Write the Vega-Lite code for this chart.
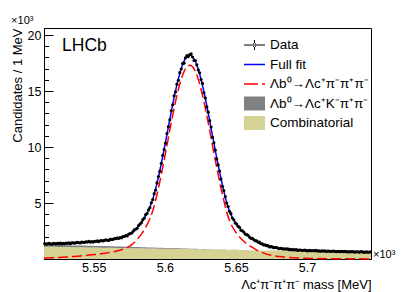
{
  "$schema": "https://vega.github.io/schema/vega-lite/v6.json",
  "width": 327,
  "height": 231,
  "autosize": {"type": "none"},
  "padding": {"left": 44, "top": 28, "right": 36, "bottom": 33},
  "background": "white",
  "config": {
    "font": "Liberation Sans",
    "view": {"stroke": "black", "strokeWidth": 1},
    "axis": {"labelFont": "Liberation Sans", "labelFontSize": 12.5, "labelColor": "black", "tickColor": "black", "tickWidth": 1, "domainColor": "black", "domainWidth": 1, "grid": false, "titleFont": "Liberation Sans", "titleFontWeight": "normal", "titleColor": "black", "zindex": 1},
    "title": {"font": "Liberation Sans", "fontWeight": "normal", "color": "black"}
  },
  "title": {"text": "×10³", "anchor": "start", "fontSize": 11, "offset": 2},
  "datasets": {
    "obs": [
{"m":5515.5,"n":1370},{"m":5516.5,"n":1323},{"m":5517.5,"n":1361},{"m":5518.5,"n":1397},{"m":5519.5,"n":1347},{"m":5520.5,"n":1317},{"m":5521.5,"n":1389},{"m":5522.5,"n":1369},{"m":5523.5,"n":1349},{"m":5524.5,"n":1405},
{"m":5525.5,"n":1371},{"m":5526.5,"n":1431},{"m":5527.5,"n":1358},{"m":5528.5,"n":1402},{"m":5529.5,"n":1359},{"m":5530.5,"n":1423},{"m":5531.5,"n":1400},{"m":5532.5,"n":1442},{"m":5533.5,"n":1371},{"m":5534.5,"n":1442},
{"m":5535.5,"n":1453},{"m":5536.5,"n":1410},{"m":5537.5,"n":1456},{"m":5538.5,"n":1499},{"m":5539.5,"n":1454},{"m":5540.5,"n":1431},{"m":5541.5,"n":1514},{"m":5542.5,"n":1498},{"m":5543.5,"n":1483},{"m":5544.5,"n":1544},
{"m":5545.5,"n":1514},{"m":5546.5,"n":1581},{"m":5547.5,"n":1508},{"m":5548.5,"n":1555},{"m":5549.5,"n":1514},{"m":5550.5,"n":1589},{"m":5551.5,"n":1569},{"m":5552.5,"n":1621},{"m":5553.5,"n":1548},{"m":5554.5,"n":1628},
{"m":5555.5,"n":1644},{"m":5556.5,"n":1608},{"m":5557.5,"n":1665},{"m":5558.5,"n":1719},{"m":5559.5,"n":1678},{"m":5560.5,"n":1657},{"m":5561.5,"n":1753},{"m":5562.5,"n":1749},{"m":5563.5,"n":1746},{"m":5564.5,"n":1826},
{"m":5565.5,"n":1806},{"m":5566.5,"n":1897},{"m":5567.5,"n":1833},{"m":5568.5,"n":1913},{"m":5569.5,"n":1892},{"m":5570.5,"n":2000},{"m":5571.5,"n":2010},{"m":5572.5,"n":2102},{"m":5573.5,"n":2062},{"m":5574.5,"n":2208},
{"m":5575.5,"n":2279},{"m":5576.5,"n":2303},{"m":5577.5,"n":2447},{"m":5578.5,"n":2598},{"m":5579.5,"n":2653},{"m":5580.5,"n":2741},{"m":5581.5,"n":2989},{"m":5582.5,"n":3113},{"m":5583.5,"n":3244},{"m":5584.5,"n":3512},
{"m":5585.5,"n":3649},{"m":5586.5,"n":3958},{"m":5587.5,"n":4062},{"m":5588.5,"n":4383},{"m":5589.5,"n":4581},{"m":5590.5,"n":5018},{"m":5591.5,"n":5316},{"m":5592.5,"n":5838},{"m":5593.5,"n":6160},{"m":5594.5,"n":6792},
{"m":5595.5,"n":7368},{"m":5596.5,"n":7840},{"m":5597.5,"n":8545},{"m":5598.5,"n":9259},{"m":5599.5,"n":9779},{"m":5600.5,"n":10343},{"m":5601.5,"n":11205},{"m":5602.5,"n":11818},{"m":5603.5,"n":12427},{"m":5604.5,"n":13243},
{"m":5605.5,"n":13773},{"m":5606.5,"n":14579},{"m":5607.5,"n":14922},{"m":5608.5,"n":15612},{"m":5609.5,"n":15964},{"m":5610.5,"n":16644},{"m":5611.5,"n":16967},{"m":5612.5,"n":17466},{"m":5613.5,"n":17493},{"m":5614.5,"n":17966},
{"m":5615.5,"n":18156},{"m":5616.5,"n":18077},{"m":5617.5,"n":18249},{"m":5618.5,"n":18326},{"m":5619.5,"n":18034},{"m":5620.5,"n":17730},{"m":5621.5,"n":17730},{"m":5622.5,"n":17337},{"m":5623.5,"n":16885},{"m":5624.5,"n":16632},
{"m":5625.5,"n":16020},{"m":5626.5,"n":15684},{"m":5627.5,"n":14851},{"m":5628.5,"n":14368},{"m":5629.5,"n":13581},{"m":5630.5,"n":13113},{"m":5631.5,"n":12359},{"m":5632.5,"n":11784},{"m":5633.5,"n":10877},{"m":5634.5,"n":10382},
{"m":5635.5,"n":9726},{"m":5636.5,"n":8938},{"m":5637.5,"n":8399},{"m":5638.5,"n":7855},{"m":5639.5,"n":7139},{"m":5640.5,"n":6495},{"m":5641.5,"n":6114},{"m":5642.5,"n":5564},{"m":5643.5,"n":4997},{"m":5644.5,"n":4691},
{"m":5645.5,"n":4260},{"m":5646.5,"n":4052},{"m":5647.5,"n":3659},{"m":5648.5,"n":3497},{"m":5649.5,"n":3220},{"m":5650.5,"n":3128},{"m":5651.5,"n":2920},{"m":5652.5,"n":2821},{"m":5653.5,"n":2570},{"m":5654.5,"n":2524},
{"m":5655.5,"n":2406},{"m":5656.5,"n":2230},{"m":5657.5,"n":2175},{"m":5658.5,"n":2124},{"m":5659.5,"n":1968},{"m":5660.5,"n":1845},{"m":5661.5,"n":1845},{"m":5662.5,"n":1737},{"m":5663.5,"n":1640},{"m":5664.5,"n":1624},
{"m":5665.5,"n":1511},{"m":5666.5,"n":1506},{"m":5667.5,"n":1364},{"m":5668.5,"n":1349},{"m":5669.5,"n":1250},{"m":5670.5,"n":1264},{"m":5671.5,"n":1194},{"m":5672.5,"n":1191},{"m":5673.5,"n":1082},{"m":5674.5,"n":1107},
{"m":5675.5,"n":1078},{"m":5676.5,"n":1014},{"m":5677.5,"n":1024},{"m":5678.5,"n":1030},{"m":5679.5,"n":964},{"m":5680.5,"n":919},{"m":5681.5,"n":961},{"m":5682.5,"n":925},{"m":5683.5,"n":889},{"m":5684.5,"n":919},
{"m":5685.5,"n":877},{"m":5686.5,"n":909},{"m":5687.5,"n":836},{"m":5688.5,"n":856},{"m":5689.5,"n":808},{"m":5690.5,"n":845},{"m":5691.5,"n":813},{"m":5692.5,"n":832},{"m":5693.5,"n":767},{"m":5694.5,"n":806},
{"m":5695.5,"n":802},{"m":5696.5,"n":759},{"m":5697.5,"n":780},{"m":5698.5,"n":800},{"m":5699.5,"n":755},{"m":5700.5,"n":724},{"m":5701.5,"n":772},{"m":5702.5,"n":751},{"m":5703.5,"n":730},{"m":5704.5,"n":762},
{"m":5705.5,"n":731},{"m":5706.5,"n":767},{"m":5707.5,"n":706},{"m":5708.5,"n":729},{"m":5709.5,"n":690},{"m":5710.5,"n":729},{"m":5711.5,"n":705},{"m":5712.5,"n":727},{"m":5713.5,"n":668},{"m":5714.5,"n":708},
{"m":5715.5,"n":708},{"m":5716.5,"n":670},{"m":5717.5,"n":693},{"m":5718.5,"n":714},{"m":5719.5,"n":674},{"m":5720.5,"n":647},{"m":5721.5,"n":693},{"m":5722.5,"n":675},{"m":5723.5,"n":656},{"m":5724.5,"n":689},
{"m":5725.5,"n":659},{"m":5726.5,"n":695},{"m":5727.5,"n":638},{"m":5728.5,"n":662},{"m":5729.5,"n":625},{"m":5730.5,"n":663},{"m":5731.5,"n":640},{"m":5732.5,"n":663},{"m":5733.5,"n":607},{"m":5734.5,"n":648},
{"m":5735.5,"n":648},{"m":5736.5,"n":612},{"m":5737.5,"n":634},{"m":5738.5,"n":655},{"m":5739.5,"n":617},{"m":5740.5,"n":592},{"m":5741.5,"n":635},{"m":5742.5,"n":618},{"m":5743.5,"n":601},{"m":5744.5,"n":633}
    ],
    "fit": [
{"m":5515,"comb":1100,"bkg":1270,"sig":82,"fit":1352},
{"m":5520.5,"comb":1088,"bkg":1256,"sig":105,"fit":1361},
{"m":5525.5,"comb":1077,"bkg":1242,"sig":133,"fit":1375},
{"m":5530.5,"comb":1066,"bkg":1229,"sig":173,"fit":1402},
{"m":5535.5,"comb":1056,"bkg":1215,"sig":220,"fit":1435},
{"m":5540.5,"comb":1045,"bkg":1201,"sig":277,"fit":1478},
{"m":5545.5,"comb":1034,"bkg":1186,"sig":332,"fit":1518},
{"m":5550.5,"comb":1023,"bkg":1170,"sig":395,"fit":1565},
{"m":5555.5,"comb":1012,"bkg":1154,"sig":470,"fit":1624},
{"m":5560.5,"comb":1001,"bkg":1137,"sig":570,"fit":1707},
{"m":5565.5,"comb":990,"bkg":1120,"sig":690,"fit":1810},
{"m":5569.5,"comb":982,"bkg":1106,"sig":830,"fit":1936},
{"m":5571.5,"comb":977,"bkg":1099,"sig":920,"fit":2019},
{"m":5573.5,"comb":973,"bkg":1092,"sig":1030,"fit":2122},
{"m":5575.5,"comb":969,"bkg":1085,"sig":1170,"fit":2255},
{"m":5577.5,"comb":964,"bkg":1077,"sig":1360,"fit":2437},
{"m":5579.5,"comb":960,"bkg":1069,"sig":1600,"fit":2669},
{"m":5581.5,"comb":956,"bkg":1061,"sig":1890,"fit":2951},
{"m":5583.5,"comb":951,"bkg":1053,"sig":2220,"fit":3273},
{"m":5585.5,"comb":947,"bkg":1045,"sig":2610,"fit":3655},
{"m":5587.5,"comb":942,"bkg":1037,"sig":3070,"fit":4107},
{"m":5589.5,"comb":938,"bkg":1029,"sig":3620,"fit":4649},
{"m":5591.5,"comb":934,"bkg":1021,"sig":4310,"fit":5331},
{"m":5593.5,"comb":929,"bkg":1013,"sig":5250,"fit":6263},
{"m":5595.5,"comb":925,"bkg":1005,"sig":6320,"fit":7325},
{"m":5597.5,"comb":921,"bkg":997,"sig":7530,"fit":8527},
{"m":5599.5,"comb":916,"bkg":989,"sig":8820,"fit":9809},
{"m":5601.5,"comb":912,"bkg":981,"sig":10150,"fit":11131},
{"m":5603.5,"comb":908,"bkg":973,"sig":11510,"fit":12483},
{"m":5605.5,"comb":903,"bkg":965,"sig":12820,"fit":13785},
{"m":5607.5,"comb":899,"bkg":958,"sig":14050,"fit":15008},
{"m":5609.5,"comb":895,"bkg":951,"sig":15140,"fit":16091},
{"m":5611.5,"comb":890,"bkg":943,"sig":16050,"fit":16993},
{"m":5613.5,"comb":886,"bkg":936,"sig":16730,"fit":17666},
{"m":5615.5,"comb":882,"bkg":929,"sig":17160,"fit":18089},
{"m":5617.5,"comb":877,"bkg":921,"sig":17300,"fit":18221},
{"m":5619.5,"comb":873,"bkg":914,"sig":17160,"fit":18074},
{"m":5621.5,"comb":869,"bkg":907,"sig":16730,"fit":17637},
{"m":5623.5,"comb":864,"bkg":900,"sig":16050,"fit":16950},
{"m":5625.5,"comb":860,"bkg":893,"sig":15140,"fit":16033},
{"m":5627.5,"comb":856,"bkg":886,"sig":14050,"fit":14936},
{"m":5629.5,"comb":851,"bkg":879,"sig":12820,"fit":13699},
{"m":5631.5,"comb":847,"bkg":872,"sig":11510,"fit":12382},
{"m":5633.5,"comb":842,"bkg":864,"sig":10150,"fit":11014},
{"m":5635.5,"comb":838,"bkg":858,"sig":8820,"fit":9678},
{"m":5637.5,"comb":834,"bkg":852,"sig":7530,"fit":8382},
{"m":5639.5,"comb":829,"bkg":846,"sig":6320,"fit":7166},
{"m":5641.5,"comb":825,"bkg":840,"sig":5220,"fit":6060},
{"m":5643.5,"comb":821,"bkg":835,"sig":4200,"fit":5035},
{"m":5645.5,"comb":816,"bkg":828,"sig":3440,"fit":4268},
{"m":5647.5,"comb":812,"bkg":823,"sig":2880,"fit":3703},
{"m":5649.5,"comb":808,"bkg":817,"sig":2460,"fit":3277},
{"m":5651.5,"comb":803,"bkg":810,"sig":2120,"fit":2930},
{"m":5653.5,"comb":799,"bkg":805,"sig":1830,"fit":2635},
{"m":5655.5,"comb":795,"bkg":800,"sig":1580,"fit":2380},
{"m":5657.5,"comb":790,"bkg":794,"sig":1370,"fit":2164},
{"m":5659.5,"comb":786,"bkg":789,"sig":1190,"fit":1979},
{"m":5661.5,"comb":782,"bkg":785,"sig":1030,"fit":1815},
{"m":5663.5,"comb":777,"bkg":779,"sig":880,"fit":1659},
{"m":5665.5,"comb":773,"bkg":775,"sig":740,"fit":1515},
{"m":5667.5,"comb":769,"bkg":770,"sig":620,"fit":1390},
{"m":5670.5,"comb":762,"bkg":763,"sig":480,"fit":1243},
{"m":5675.5,"comb":751,"bkg":751,"sig":310,"fit":1061},
{"m":5680.5,"comb":740,"bkg":740,"sig":215,"fit":955},
{"m":5685.5,"comb":729,"bkg":729,"sig":150,"fit":879},
{"m":5690.5,"comb":719,"bkg":719,"sig":109,"fit":828},
{"m":5695.5,"comb":708,"bkg":708,"sig":80,"fit":788},
{"m":5705.5,"comb":686,"bkg":686,"sig":48,"fit":734},
{"m":5715.5,"comb":664,"bkg":664,"sig":31,"fit":695},
{"m":5725.5,"comb":642,"bkg":642,"sig":20,"fit":662},
{"m":5735.5,"comb":621,"bkg":621,"sig":14,"fit":635},
{"m":5745,"comb":600,"bkg":600,"sig":10,"fit":610}
    ],
    "keys": [
      {"series": "Data"},
      {"series": "Full fit"},
      {"series": "Λb⁰→Λc⁺π⁻π⁺π⁻"},
      {"series": "Λb⁰→Λc⁺K⁻π⁺π⁻"},
      {"series": "Combinatorial"}
    ]
  },
  "resolve": {"axis": {"x": "independent", "y": "independent"}},
  "layer": [
    {
      "data": {"name": "fit"},
      "mark": {"type": "area", "color": "#d6d294", "interpolate": "monotone"},
      "encoding": {
        "x": {"field": "m", "type": "quantitative", "scale": {"domain": [5515, 5745], "nice": false, "zero": false},
          "axis": {"orient": "bottom", "values": [5550, 5600, 5650, 5700], "tickSize": -8, "labelPadding": 10, "labelExpr": "format(datum.value/1000, '.2~f')", "title": "Λc⁺π⁻π⁺π⁻ mass [MeV]", "titleAnchor": "end", "titleFontSize": 13, "titlePadding": 5}},
        "y": {"field": "comb", "type": "quantitative", "scale": {"domain": [0, 20630], "nice": false},
          "axis": {"orient": "left", "values": [5000, 10000, 15000, 20000], "tickSize": -9, "labelPadding": 12, "labelExpr": "format(datum.value/1000, 'd')", "title": "Candidates / 1 MeV", "titleAnchor": "end", "titleFontSize": 13, "titlePadding": 3}}
      }
    },
    {
      "data": {"name": "fit"},
      "mark": {"type": "area", "color": "#808080", "interpolate": "monotone"},
      "encoding": {
        "x": {"field": "m", "type": "quantitative",
          "axis": {"orient": "bottom", "values": [5520, 5530, 5540, 5560, 5570, 5580, 5590, 5610, 5620, 5630, 5640, 5660, 5670, 5680, 5690, 5710, 5720, 5730, 5740], "tickSize": -4, "labels": false, "domain": false, "title": null}},
        "y": {"field": "bkg", "type": "quantitative",
          "axis": {"orient": "left", "values": [1000, 2000, 3000, 4000, 6000, 7000, 8000, 9000, 11000, 12000, 13000, 14000, 16000, 17000, 18000, 19000], "tickSize": -4.5, "labels": false, "domain": false, "title": null}},
        "y2": {"field": "comb"}
      }
    },
    {
      "data": {"name": "fit"},
      "mark": {"type": "line", "color": "red", "strokeWidth": 1.5, "strokeDash": [10, 4], "interpolate": "monotone"},
      "encoding": {
        "x": {"field": "m", "type": "quantitative", "axis": null},
        "y": {"field": "sig", "type": "quantitative", "axis": null}
      }
    },
    {
      "data": {"name": "fit"},
      "mark": {"type": "line", "color": "blue", "strokeWidth": 1.5, "interpolate": "monotone"},
      "encoding": {
        "x": {"field": "m", "type": "quantitative", "axis": null},
        "y": {"field": "fit", "type": "quantitative", "axis": null}
      }
    },
    {
      "data": {"name": "obs"},
      "mark": {"type": "point", "filled": true, "size": 10, "opacity": 1, "color": "black"},
      "encoding": {
        "x": {"field": "m", "type": "quantitative", "axis": null},
        "y": {"field": "n", "type": "quantitative", "axis": null}
      }
    },
    {
      "data": {"name": "keys"},
      "transform": [{"filter": "datum.series == 'none'"}],
      "mark": {"type": "point", "filled": true, "opacity": 1},
      "encoding": {
        "color": {
          "field": "series", "type": "nominal",
          "scale": {"domain": ["Data", "Full fit", "Λb⁰→Λc⁺π⁻π⁺π⁻", "Λb⁰→Λc⁺K⁻π⁺π⁻", "Combinatorial"], "range": ["black", "blue", "red", "#808080", "#d6d294"]},
          "legend": {
            "orient": "none", "legendX": 200, "legendY": 9, "title": null, "padding": 0,
            "symbolSize": 441, "symbolStrokeWidth": 0, "symbolOpacity": 1, "clipHeight": 16, "rowPadding": 3.5,
            "labelFont": "Liberation Sans", "labelFontSize": 13.5, "labelColor": "black", "labelOffset": 5, "labelLimit": 200
          }
        },
        "shape": {
          "field": "series", "type": "nominal",
          "scale": {"domain": ["Data", "Full fit", "Λb⁰→Λc⁺π⁻π⁺π⁻", "Λb⁰→Λc⁺K⁻π⁺π⁻", "Combinatorial"],
            "range": ["M-1,-0.05H1V0.05H-1Z M-0.05,-0.48H0.05V0.48H-0.05Z M-0.2,0A0.2,0.2 0 1,0 0.2,0A0.2,0.2 0 1,0 -0.2,0Z", "M-1,-0.07H1V0.07H-1Z", "M-1,-0.07H0.33V0.07H-1Z M0.7,-0.07H1V0.07H0.7Z", "M-1,-0.67H1V0.67H-1Z", "M-1,-0.67H1V0.67H-1Z"]},
          "legend": {
            "orient": "none", "legendX": 200, "legendY": 9, "title": null, "padding": 0,
            "symbolSize": 441, "symbolStrokeWidth": 0, "symbolOpacity": 1, "clipHeight": 16, "rowPadding": 3.5,
            "labelFont": "Liberation Sans", "labelFontSize": 13.5, "labelColor": "black", "labelOffset": 5, "labelLimit": 200
          }
        }
      }
    },
    {
      "data": {"values": [{"label": "LHCb"}]},
      "mark": {"type": "text", "font": "Liberation Sans", "fontSize": 17.5, "align": "left", "baseline": "alphabetic", "color": "black"},
      "encoding": {
        "x": {"datum": 5527.7, "type": "quantitative", "axis": null},
        "y": {"datum": 18570, "type": "quantitative", "axis": null},
        "text": {"field": "label"}
      }
    },
    {
      "data": {"values": [{"label": "×10³"}]},
      "mark": {"type": "text", "font": "Liberation Sans", "fontSize": 11, "align": "left", "baseline": "alphabetic", "dx": 2, "dy": -1, "color": "black"},
      "encoding": {
        "x": {"datum": 5745, "type": "quantitative", "axis": null},
        "y": {"datum": 0, "type": "quantitative", "axis": null},
        "text": {"field": "label"}
      }
    }
  ]
}
